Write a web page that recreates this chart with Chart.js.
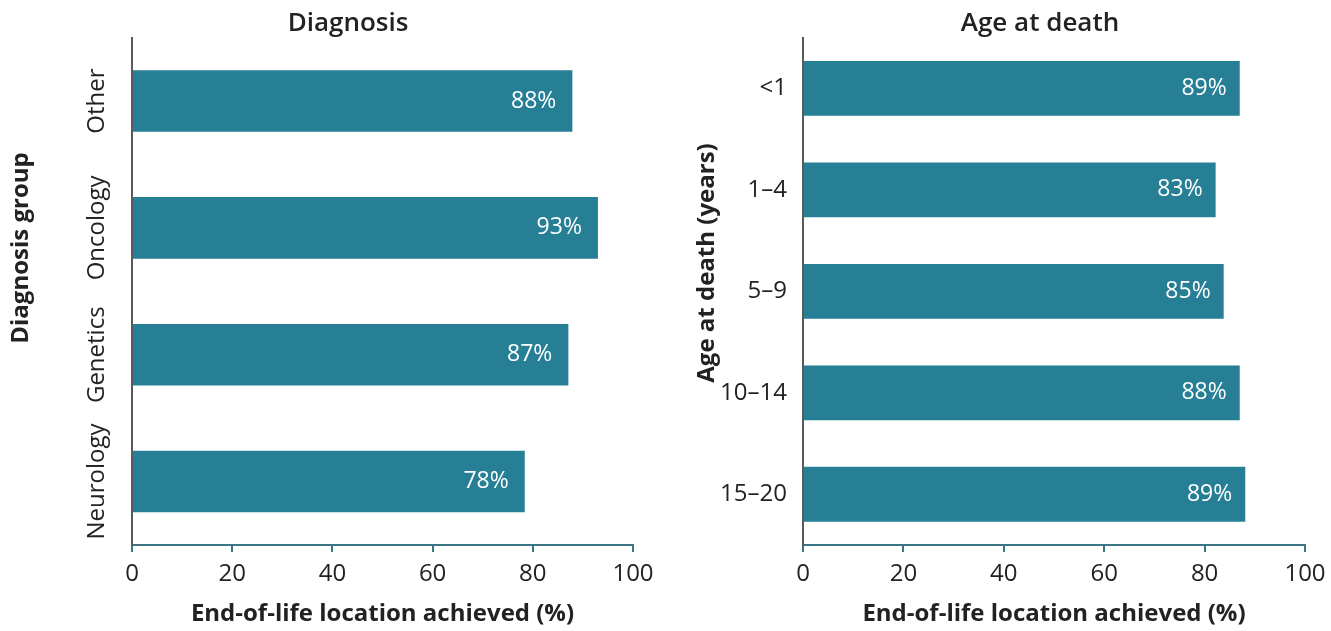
<!DOCTYPE html>
<html>
<head>
<meta charset="utf-8">
<script src="https://cdn.jsdelivr.net/npm/chart.js@4/dist/chart.umd.min.js"></script>
<style>
  html, body { margin: 0; background: #fff; overflow: hidden; width: 1331px; height: 631px; }
  canvas { position: absolute; top: 0; }
  #diag-chart { left: 0; }
  #age-chart { left: 665px; }
</style>
</head>
<body>
<canvas id="diag-chart" width="665" height="631"></canvas>
<canvas id="age-chart" width="705" height="631"></canvas>
<script>
const diagnosisGroups = ["Other", "Oncology", "Genetics", "Neurology"];
const diagnosisValues = [87.9, 93.0, 87.1, 78.4];
const diagnosisLabels = ["88%", "93%", "87%", "78%"];

const ageGroups = ["<1", "1–4", "5–9", "10–14", "15–20"];
const ageValues = [87.0, 82.2, 83.8, 87.0, 88.1];
const ageLabels = ["89%", "83%", "85%", "88%", "89%"];

const xTicks = [0, 20, 40, 60, 80, 100];

const FONT = "'Open Sans', sans-serif";
const BAR_COLOR = "#267f95";
const AXIS_TEAL = "#3b7686";
const TEXT = "#222";

Chart.defaults.font.family = FONT;
Chart.defaults.color = TEXT;

// white value labels at the end of each bar
const barLabels = {
  id: "barLabels",
  afterDatasetsDraw(chart, args, opts) {
    const ctx = chart.ctx;
    const meta = chart.getDatasetMeta(0);
    ctx.save();
    ctx.font = "23px " + FONT;
    ctx.fillStyle = "#fff";
    ctx.textAlign = "right";
    ctx.textBaseline = "middle";
    meta.data.forEach((bar, i) => {
      ctx.fillText(opts.labels[i], bar.x - opts.inset, bar.y);
    });
    ctx.restore();
  },
};

// rotated y axis title, placed freely
const sideTitle = {
  id: "sideTitle",
  afterDraw(chart, args, opts) {
    const ctx = chart.ctx;
    ctx.save();
    ctx.translate(opts.x, opts.y);
    ctx.rotate(-Math.PI / 2);
    ctx.font = "bold 24px " + FONT;
    ctx.fillStyle = TEXT;
    ctx.textAlign = "center";
    ctx.textBaseline = "middle";
    ctx.fillText(opts.text, 0, 0);
    ctx.restore();
  },
};

function measure(text, font) {
  const c = document.createElement("canvas").getContext("2d");
  c.font = font;
  return c.measureText(text).width;
}

function drawPanel(id, p) {
  const ctx = document.getElementById(id).getContext("2d");
  return new Chart(ctx, {
    type: "bar",
    data: {
      labels: p.categories,
      datasets: [
        {
          data: p.values,
          backgroundColor: BAR_COLOR,
          categoryPercentage: 1,
          barPercentage: p.barPct,
        },
      ],
    },
    options: {
      indexAxis: "y",
      responsive: false,
      animation: false,
      devicePixelRatio: 1,
      layout: { padding: { left: p.padLeft, right: p.padRight, top: 0, bottom: 0 } },
      plugins: {
        legend: { display: false },
        tooltip: { enabled: false },
        title: {
          display: true,
          text: p.title,
          color: TEXT,
          font: { size: 26, weight: "600", lineHeight: 1.1 },
          padding: { top: 9, bottom: 0 },
        },
        barLabels: { labels: p.labels, inset: p.inset },
        sideTitle: { text: p.yTitle, x: p.yTitleX, y: p.yTitleY },
      },
      scales: {
        x: {
          min: 0,
          max: 100,
          afterBuildTicks: (s) => {
            s.ticks = xTicks.map((v) => ({ value: v }));
          },
          afterFit: (s) => {
            s.height = 86;
            s.paddingRight = Math.max(s.paddingRight, p.plotRightGap);
          },
          grid: {
            drawOnChartArea: false,
            drawTicks: true,
            tickLength: 7,
            color: AXIS_TEAL,
            lineWidth: 2,
          },
          border: { color: AXIS_TEAL, width: 2 },
          ticks: { font: { size: 24 }, color: TEXT, padding: 8, maxRotation: 0 },
          title: {
            display: true,
            text: "End-of-life location achieved (%)",
            color: TEXT,
            font: { size: 24, weight: "bold" },
            padding: { top: 0, bottom: 2 },
          },
        },
        y: {
          z: 1,
          afterFit: (s) => {
            s.width = p.yWidth;
          },
          grid: { display: false, drawTicks: false },
          border: { color: "#5a5a5a", width: 2 },
          ticks: {
            font: { size: 24 },
            color: TEXT,
            autoSkip: false,
            padding: p.tickPad,
            minRotation: p.tickRot,
            maxRotation: p.tickRot,
            crossAlign: p.crossAlign,
          },
        },
      },
    },
    plugins: [barLabels, sideTitle],
  });
}

const widest = Math.max(...diagnosisGroups.map((g) => measure(g, "24px " + FONT)));

drawPanel("diag-chart", {
  categories: diagnosisGroups,
  values: diagnosisValues,
  labels: diagnosisLabels,
  title: "Diagnosis",
  yTitle: "Diagnosis group",
  yTitleX: 21,
  yTitleY: 248,
  padLeft: 63,
  padRight: 32,
  plotRightGap: 0,
  yWidth: 69,
  barPct: 0.485,
  inset: 16,
  tickPad: 35 - widest / 2,
  tickRot: 90,
  crossAlign: "center",
});

drawPanel("age-chart", {
  categories: ageGroups,
  values: ageValues,
  labels: ageLabels,
  title: "Age at death",
  yTitle: "Age at death (years)",
  yTitleX: 42,
  yTitleY: 263,
  padLeft: 45,
  padRight: 0,
  plotRightGap: 65,
  yWidth: 93,
  barPct: 0.54,
  inset: 13,
  tickPad: 16,
  tickRot: 0,
  crossAlign: "near",
});
</script>
</body>
</html>
